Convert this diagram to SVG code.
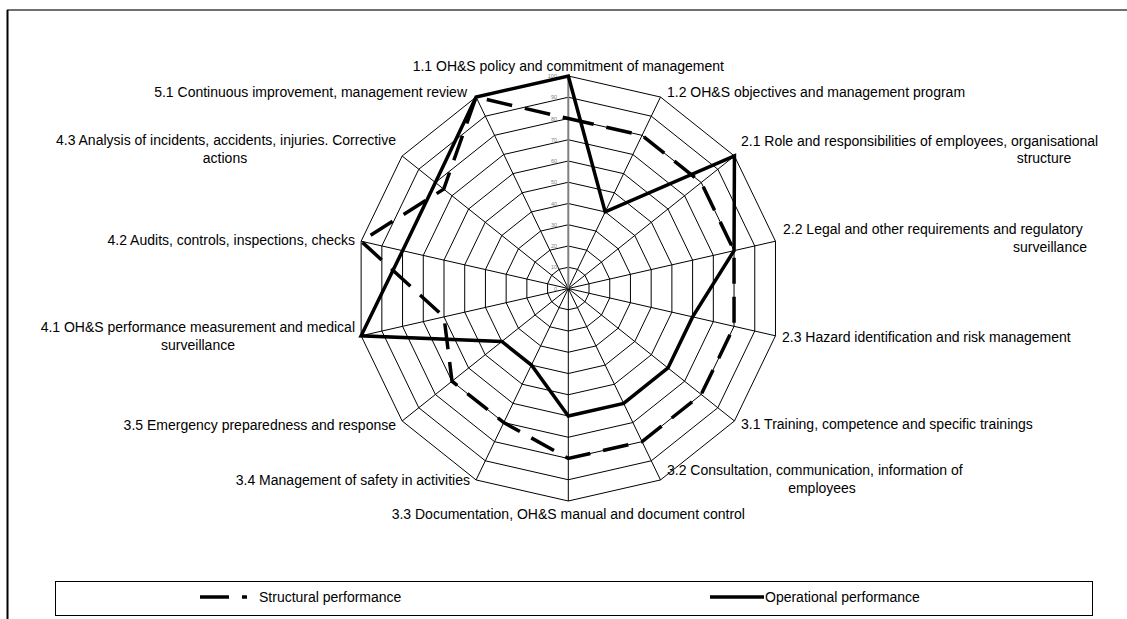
<svg xmlns="http://www.w3.org/2000/svg" xmlns:xlink="http://www.w3.org/1999/xlink" width="1127" height="619" viewBox="0 0 1127 619">
<style>
.ring{fill:none;stroke:#000;stroke-width:1;vector-effect:non-scaling-stroke}
.spoke{stroke:#000;stroke-width:1}
.vaxis{stroke:#808080;stroke-width:2}
.tick{font-family:"Liberation Sans",Arial,sans-serif;font-size:5.5px;fill:#808080;text-anchor:end}
.lbl{font-family:"Liberation Sans",Arial,sans-serif;font-size:14px;fill:#000}
.leg{font-family:"Liberation Sans",Arial,sans-serif;font-size:14px;fill:#000}
.op{fill:none;stroke:#000;stroke-width:3.5;stroke-linejoin:miter}
.st{fill:none;stroke:#000;stroke-width:3.5;stroke-dasharray:26 13;stroke-linejoin:miter}
</style>
<defs>
<polygon id="ring" class="ring" points="0,-1 0.43388,-0.90097 0.78183,-0.62349 0.97493,-0.22252 0.97493,0.22252 0.78183,0.62349 0.43388,0.90097 0,1 -0.43388,0.90097 -0.78183,0.62349 -0.97493,0.22252 -0.97493,-0.22252 -0.78183,-0.62349 -0.43388,-0.90097"/>
</defs>
<rect x="0" y="0" width="1127" height="619" fill="#fff"/>
<g id="frame">
<line x1="7" y1="10" x2="1127" y2="10" stroke="#404040" stroke-width="1.5"/>
<line x1="7.5" y1="10" x2="7.5" y2="619" stroke="#000" stroke-width="2"/>
</g>
<g id="grid">
<use xlink:href="#ring" transform="translate(568.3 288.5) scale(21.25)"/>
<use xlink:href="#ring" transform="translate(568.3 288.5) scale(42.5)"/>
<use xlink:href="#ring" transform="translate(568.3 288.5) scale(63.75)"/>
<use xlink:href="#ring" transform="translate(568.3 288.5) scale(85)"/>
<use xlink:href="#ring" transform="translate(568.3 288.5) scale(106.25)"/>
<use xlink:href="#ring" transform="translate(568.3 288.5) scale(127.5)"/>
<use xlink:href="#ring" transform="translate(568.3 288.5) scale(148.75)"/>
<use xlink:href="#ring" transform="translate(568.3 288.5) scale(170)"/>
<use xlink:href="#ring" transform="translate(568.3 288.5) scale(191.25)"/>
<use xlink:href="#ring" transform="translate(568.3 288.5) scale(212.5)"/>
<line class="spoke" x1="568.3" y1="288.5" x2="660.5" y2="97.04"/>
<line class="spoke" x1="568.3" y1="288.5" x2="734.44" y2="156.01"/>
<line class="spoke" x1="568.3" y1="288.5" x2="775.47" y2="241.21"/>
<line class="spoke" x1="568.3" y1="288.5" x2="775.47" y2="335.79"/>
<line class="spoke" x1="568.3" y1="288.5" x2="734.44" y2="420.99"/>
<line class="spoke" x1="568.3" y1="288.5" x2="660.5" y2="479.96"/>
<line class="spoke" x1="568.3" y1="288.5" x2="568.3" y2="501"/>
<line class="spoke" x1="568.3" y1="288.5" x2="476.1" y2="479.96"/>
<line class="spoke" x1="568.3" y1="288.5" x2="402.16" y2="420.99"/>
<line class="spoke" x1="568.3" y1="288.5" x2="361.13" y2="335.79"/>
<line class="spoke" x1="568.3" y1="288.5" x2="361.13" y2="241.21"/>
<line class="spoke" x1="568.3" y1="288.5" x2="402.16" y2="156.01"/>
<line class="spoke" x1="568.3" y1="288.5" x2="476.1" y2="97.04"/>
<line class="vaxis" x1="568.3" y1="288.5" x2="568.3" y2="76"/>
</g>
<g id="ticks">
<text class="tick" x="557" y="290.5">0</text>
<text class="tick" x="557" y="269.3">10</text>
<text class="tick" x="557" y="248">20</text>
<text class="tick" x="557" y="226.8">30</text>
<text class="tick" x="557" y="205.5">40</text>
<text class="tick" x="557" y="184.3">50</text>
<text class="tick" x="557" y="163">60</text>
<text class="tick" x="557" y="141.8">70</text>
<text class="tick" x="557" y="120.5">80</text>
<text class="tick" x="557" y="99.3">90</text>
<text class="tick" x="557" y="78">100</text>
</g>
<g id="connectors">
<polygon id="structural" class="st" points="568.3,118.5 642.06,135.34 701.21,182.51 734.04,250.67 734.04,326.33 701.21,394.49 642.06,441.66 568.3,458.5 503.76,422.52 452,381.24 444,316.87 361.13,241.21 443.7,189.13 476.1,97.04"/>
<polygon id="operational" class="op" points="568.3,76 605.18,211.92 734.44,156.01 734.04,250.67 692.6,316.87 667.98,367.99 623.62,403.37 568.3,416 531.42,365.08 501.84,341.5 361.13,335.79 402.56,250.67 435.39,182.51 476.1,97.04"/>
</g>
<g id="labels">
<g id="n11"><text class="lbl" x="568.3" y="71" text-anchor="middle">1.1 OH&amp;S policy and commitment of management</text></g>
<g id="n12"><text class="lbl" x="667" y="97">1.2 OH&amp;S objectives and management program</text></g>
<g id="n21"><text class="lbl" x="741" y="146">2.1 Role and responsibilities of employees, organisational</text><text class="lbl" x="1044" y="163" text-anchor="middle">structure</text></g>
<g id="n22"><text class="lbl" x="783" y="234">2.2 Legal and other requirements and regulatory</text><text class="lbl" x="1050" y="252" text-anchor="middle">surveillance</text></g>
<g id="n23"><text class="lbl" x="782" y="342">2.3 Hazard identification and risk management</text></g>
<g id="n31"><text class="lbl" x="741" y="429">3.1 Training, competence and specific trainings</text></g>
<g id="n32"><text class="lbl" x="667" y="475">3.2 Consultation, communication, information of</text><text class="lbl" x="822" y="493" text-anchor="middle">employees</text></g>
<g id="n33"><text class="lbl" x="568.3" y="519" text-anchor="middle">3.3 Documentation, OH&amp;S manual and document control</text></g>
<g id="n34"><text class="lbl" x="470" y="485" text-anchor="end">3.4 Management of safety in activities</text></g>
<g id="n35"><text class="lbl" x="396" y="430" text-anchor="end">3.5 Emergency preparedness and response</text></g>
<g id="n41"><text class="lbl" x="355" y="332" text-anchor="end">4.1 OH&amp;S performance measurement and medical</text><text class="lbl" x="198" y="350" text-anchor="middle">surveillance</text></g>
<g id="n42"><text class="lbl" x="355" y="245" text-anchor="end">4.2 Audits, controls, inspections, checks</text></g>
<g id="n43"><text class="lbl" x="396" y="145" text-anchor="end">4.3 Analysis of incidents, accidents, injuries. Corrective</text><text class="lbl" x="225" y="163" text-anchor="middle">actions</text></g>
<g id="n51"><text class="lbl" x="467" y="97" text-anchor="end">5.1 Continuous improvement, management review</text></g>
</g>
<g id="legend">
<rect x="55.5" y="581.5" width="1037" height="34" fill="none" stroke="#000" stroke-width="1"/>
<line x1="200" y1="597" x2="229" y2="597" stroke="#000" stroke-width="3.5"/>
<line x1="242" y1="597" x2="247" y2="597" stroke="#000" stroke-width="3.5"/>
<text class="leg" x="259" y="602">Structural performance</text>
<line x1="710" y1="597" x2="764" y2="597" stroke="#000" stroke-width="3.5"/>
<text class="leg" x="765" y="602">Operational performance</text>
</g>
</svg>
